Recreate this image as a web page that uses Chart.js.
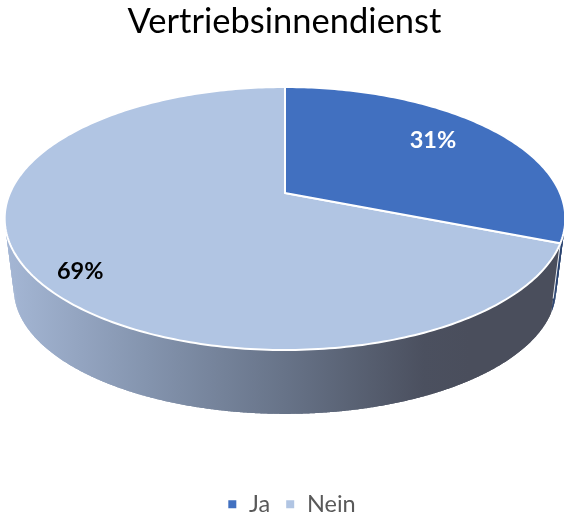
<!DOCTYPE html>
<html>
<head>
<meta charset="utf-8">
<title>Vertriebsinnendienst</title>
<script src="https://cdn.jsdelivr.net/npm/chart.js@4"></script>
<style>
    html, body { margin: 0; padding: 0; background: #fff; }
    #wrap { width: 564px; height: 515px; }
</style>
</head>
<body>
<div id="wrap"><canvas id="pie"></canvas></div>
<script>
const categories = ["Ja", "Nein"];
const shares = [31, 69];
const sliceColors = ["#4170C0", "#B1C5E3"];
const labelColors = ["#ffffff", "#000000"];
const chartTitle = "Vertriebsinnendienst";

// camera model of the tilted disc, in px at 564x515
const topDisc = { cx: 285, radius: 275, near: -0.194, mid: 193, depth: 89.1 };
const baseDisc = { cx: 285, radius: 266, near: -0.194, mid: 264.7, depth: 68.9 };

function project(chart, disc, angle, rho) {
    const sx = chart.width / 564;
    const sy = chart.height / 515;
    const x = Math.cos(angle) * rho;
    const d = Math.sin(angle) * rho;
    const w = 1 + disc.near * d;
    return { x: (disc.cx + disc.radius * x / w) * sx, y: ((disc.mid + disc.depth * d) / w) * sy };
}

function traceRim(ctx, chart, disc, from, to, first) {
    const steps = Math.max(8, Math.ceil(Math.abs(to - from) * 60));
    for (let i = 0; i <= steps; i++) {
        const p = project(chart, disc, from + (to - from) * i / steps, 1);
        if (i === 0 && first) ctx.moveTo(p.x, p.y);
        else ctx.lineTo(p.x, p.y);
    }
}

function fillWall(ctx, chart, arc) {
    // strips, so the outline also gets the straight sides between both rims
    const steps = Math.ceil((arc.endAngle - arc.startAngle) * 60);
    const da = (arc.endAngle - arc.startAngle) / steps;
    for (let i = 0; i < steps; i++) {
        const a = arc.startAngle + i * da;
        const b = Math.min(a + 2 * da, arc.endAngle);
        ctx.beginPath();
        traceRim(ctx, chart, topDisc, a, b, true);
        traceRim(ctx, chart, baseDisc, b, a, false);
        ctx.closePath();
        ctx.fill();
    }
}

const tiltedPie = {
    id: "tiltedPie",
    afterLayout(chart) {
        // legend sits a little right of the title in the original
        chart.legend.left += 14;
    },
    beforeDatasetDraw(chart, args) {
        const ctx = chart.ctx;
        const arcs = args.meta.data;
        const sx = chart.width / 564;

        // side walls first
        arcs.forEach((arc, i) => {
            if (i === 0) {
                ctx.fillStyle = "#2B4470";
            } else {
                const g = ctx.createLinearGradient(8 * sx, 0, 470 * sx, 0);
                g.addColorStop(0, "#A4B6D4");
                g.addColorStop(0.3, "#8494AE");
                g.addColorStop(0.6, "#677388");
                g.addColorStop(0.9, "#4B505F");
                g.addColorStop(1, "#4A4E5C");
                ctx.fillStyle = g;
            }
            fillWall(ctx, chart, arc);
        });

        // seam between the walls
        const seam = arcs[0].endAngle;
        const s0 = project(chart, topDisc, seam, 1);
        const s1 = project(chart, baseDisc, seam, 1);
        ctx.strokeStyle = "#ffffff";
        ctx.lineWidth = 0.9;
        ctx.beginPath();
        ctx.moveTo(s0.x, s0.y);
        ctx.lineTo(s0.x + (s1.x - s0.x) * 0.8, s0.y + (s1.y - s0.y) * 0.8);
        ctx.stroke();

        // top faces
        arcs.slice().reverse().forEach(arc => {
            const apex = project(chart, topDisc, 0, 0);
            ctx.beginPath();
            ctx.moveTo(apex.x, apex.y);
            traceRim(ctx, chart, topDisc, arc.startAngle, arc.endAngle, false);
            ctx.closePath();
            ctx.fillStyle = arc.options.backgroundColor;
            ctx.fill();
            ctx.strokeStyle = arc.options.borderColor;
            ctx.lineWidth = arc.options.borderWidth;
            ctx.lineJoin = "round";
            ctx.stroke();
        });
        return false;
    },
    afterDatasetsDraw(chart) {
        const ctx = chart.ctx;
        const sy = chart.height / 515;
        const rho = [0.7, 0.82];
        const nudge = [-6, 14];
        ctx.save();
        ctx.font = "bold 23.5px Lato";
        ctx.textAlign = "center";
        ctx.textBaseline = "middle";
        chart.getDatasetMeta(0).data.forEach((arc, i) => {
            const mid = (arc.startAngle + arc.endAngle) / 2;
            const p = project(chart, topDisc, mid, rho[i]);
            ctx.fillStyle = labelColors[i];
            ctx.fillText(shares[i] + "%", p.x, p.y + nudge[i] * sy);
        });
        ctx.restore();
    }
};

new Chart(document.getElementById("pie"), {
    type: "pie",
    plugins: [tiltedPie],
    data: {
        labels: categories,
        datasets: [{
            data: shares,
            backgroundColor: sliceColors,
            borderColor: "#ffffff",
            borderWidth: 2
        }]
    },
    options: {
        responsive: true,
        maintainAspectRatio: false,
        animation: false,
        layout: { padding: { left: 5, bottom: -11 } },
        plugins: {
            tooltip: { enabled: false },
            title: {
                display: true,
                text: chartTitle,
                color: "#000000",
                font: { family: "Lato", size: 34.5, weight: "normal" },
                padding: { top: 1, bottom: 10 }
            },
            legend: {
                position: "bottom",
                labels: {
                    boxWidth: 10,
                    boxHeight: 10,
                    color: "#595959",
                    font: { family: "Lato", size: 23.5 },
                    padding: 15
                }
            }
        }
    }
});
</script>
</body>
</html>
